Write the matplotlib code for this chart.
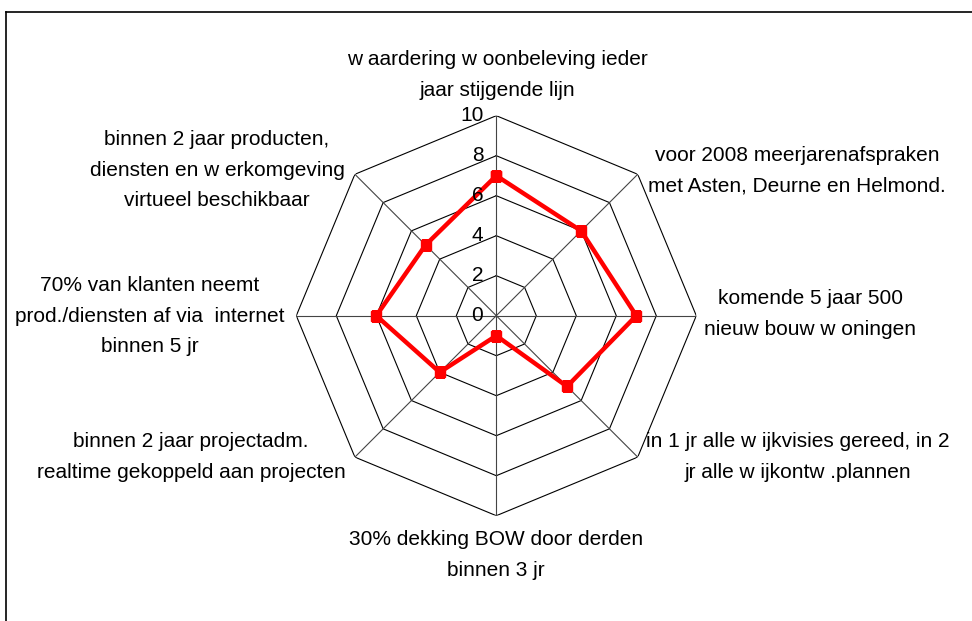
import numpy as np
import matplotlib.pyplot as plt
from matplotlib.lines import Line2D

plt.rcParams['font.family'] = ['Liberation Sans', 'DejaVu Sans']

# Data
categories = [
    "w aardering w oonbeleving ieder\njaar stijgende lijn",
    "voor 2008 meerjarenafspraken\nmet Asten, Deurne en Helmond.",
    "komende 5 jaar 500\nnieuw bouw w oningen",
    "in 1 jr alle w ijkvisies gereed, in 2\njr alle w ijkontw .plannen",
    "30% dekking BOW door derden\nbinnen 3 jr",
    "binnen 2 jaar projectadm.\nrealtime gekoppeld aan projecten",
    "70% van klanten neemt\nprod./diensten af via  internet\nbinnen 5 jr",
    "binnen 2 jaar producten,\ndiensten en w erkomgeving\nvirtueel beschikbaar",
]
values = [7, 6, 7, 5, 1, 4, 6, 5]
rings = [2, 4, 6, 8, 10]
tick_labels = ['0', '2', '4', '6', '8', '10']

W, H = 972, 621
cx, cy, R = 496.3, 315.7, 200.0

fig = plt.figure(figsize=(W / 100, H / 100), dpi=100)
ax = fig.add_axes([(cx - R) / W, (H - cy - R) / H, 2 * R / W, 2 * R / H],
                  projection='polar')
ax.set_theta_zero_location('N')
ax.set_theta_direction(-1)
ax.set_ylim(0, 10)
ax.grid(False)
ax.spines['polar'].set_visible(False)
ax.set_xticks([])
ax.set_yticks([])
ax.patch.set_alpha(0)

n = len(categories)
theta = np.arange(n) * 2 * np.pi / n
theta_closed = np.append(theta, theta[0])

# polygon rings
for r in rings:
    ax.plot(theta_closed, [r] * (n + 1), color='black', lw=0.8, zorder=1)
# spokes
for t in theta:
    ax.plot([t, t], [0, 10], color='#444444', lw=0.8, zorder=1)

# series
vals = np.append(values, values[0])
ax.plot(theta_closed, vals, color='#ff0000', lw=3.2, marker='s',
        markersize=7, zorder=3)

# radial tick labels
for r, lab in zip([0] + rings, tick_labels):
    y = cy - r * R / 10
    fig.text((cx - 13) / W, 1 - y / H, lab, ha='right', va='center',
             fontsize=15)

# category labels (pixel centres of each block)
label_pos = [(497, 75), (797, 171), (810, 314), (798, 457),
             (496, 555), (191, 457), (150, 316), (217, 170)]
for txt, (px, py) in zip(categories, label_pos):
    fig.text(px / W, 1 - py / H, txt, ha='center', va='center',
             fontsize=15, linespacing=1.75)

# outer frame
fig.add_artist(Line2D([6 / W, 1], [1 - 12 / H, 1 - 12 / H],
                      color='black', lw=1.2, transform=fig.transFigure))
fig.add_artist(Line2D([6 / W, 6 / W], [0, 1 - 12 / H],
                      color='black', lw=1.2, transform=fig.transFigure))

fig.savefig('out.png', dpi=100)
